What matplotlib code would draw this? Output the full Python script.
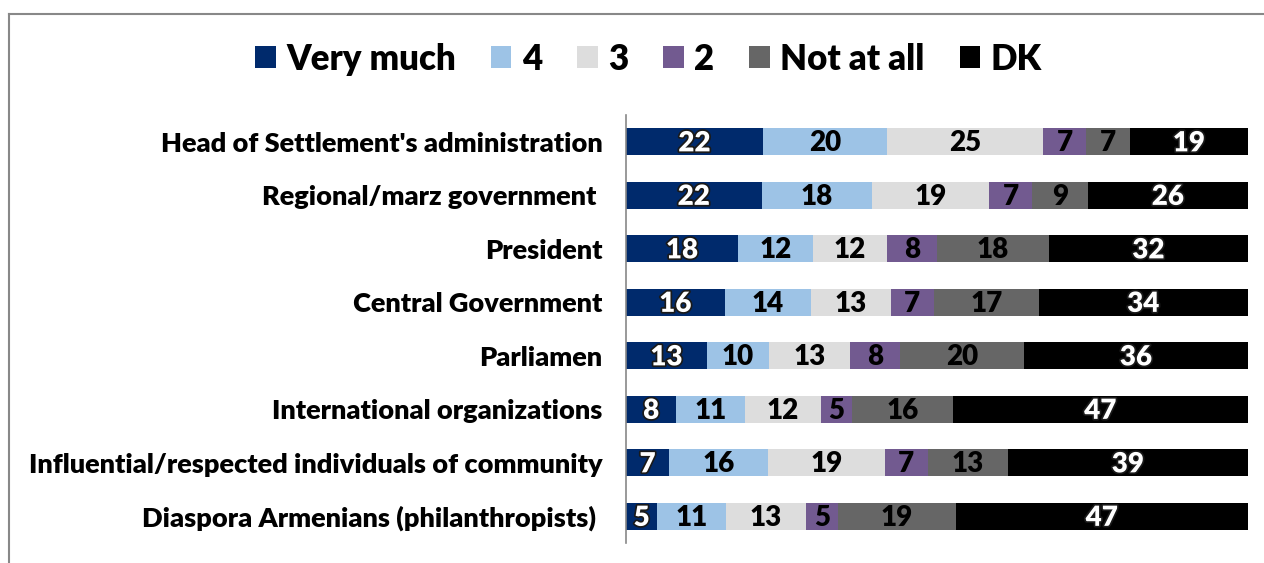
import matplotlib
matplotlib.use('Agg')
import matplotlib.pyplot as plt
import matplotlib.patheffects as pe
from matplotlib.lines import Line2D
import numpy as np

plt.rcParams['font.family'] = ['Lato', 'DejaVu Sans']

categories = [
    "Head of Settlement's administration",
    "Regional/marz government ",
    "President",
    "Central Government",
    "Parliamen",
    "International organizations",
    "Influential/respected individuals of community",
    "Diaspora Armenians (philanthropists) ",
]
series = ["Very much", "4", "3", "2", "Not at all", "DK"]
very_much  = [22, 22, 18, 16, 13, 8, 7, 5]
four       = [20, 18, 12, 14, 10, 11, 16, 11]
three      = [25, 19, 12, 13, 13, 12, 19, 13]
two        = [7, 7, 8, 7, 8, 5, 7, 5]
not_at_all = [7, 9, 18, 17, 20, 16, 13, 19]
dk         = [19, 26, 32, 34, 36, 47, 39, 47]

colors = ['#002A6C', '#9DC3E6', '#DDDDDD', '#725A90', '#666666', '#000000']
text_col = ['white', 'black', 'black', 'black', 'black', 'white']

vals = np.array([very_much, four, three, two, not_at_all, dk], dtype=float)
shares = vals / vals.sum(axis=0) * 100

fig = plt.figure(figsize=(12.64, 5.63), dpi=100)
ax = fig.add_axes([0.4953, 0.0355, 0.492, 0.7602])

y = np.arange(len(categories))
left = np.zeros(len(categories))
for i, name in enumerate(series):
    bars = ax.barh(y, shares[i], left=left, height=0.51, color=colors[i],
                   label=name)
    for j, b in enumerate(bars):
        cx = left[j] + shares[i][j] / 2
        t = ax.text(cx, y[j] + 0.03, f'{int(vals[i][j])}', ha='center', va='center',
                    fontsize=20, fontweight='heavy', color=text_col[i])
        if text_col[i] == 'white':
            t.set_path_effects([pe.withStroke(linewidth=2.5, foreground='#1a1a1a')])
    left += shares[i]

ax.set_xlim(0, 100)
ax.set_ylim(len(categories) - 0.5, -0.5)
ax.set_yticks(y)
ax.set_yticklabels(categories, fontsize=19.5, fontweight='heavy')
ax.tick_params(axis='y', length=0, pad=17)
ax.set_xticks([])
for s in ['top', 'right', 'bottom']:
    ax.spines[s].set_visible(False)
ax.spines['left'].set_color('#888888')
ax.spines['left'].set_linewidth(1.2)

leg = fig.legend(loc='center', bbox_to_anchor=(0.513, 0.895), ncol=6, frameon=False,
                 prop={'size': 25, 'weight': 'heavy'}, handlelength=0.6,
                 handleheight=0.6, handletextpad=0.3, columnspacing=1.0)

# outer frame (left and top edges)
fig.add_artist(Line2D([9/1264, 9/1264], [0, 1 - 14/563], color='#888888', lw=1.5,
                      transform=fig.transFigure))
fig.add_artist(Line2D([9/1264, 1], [1 - 14/563, 1 - 14/563], color='#888888', lw=1.5,
                      transform=fig.transFigure))

fig.savefig('out.png', dpi=100, facecolor='white')
